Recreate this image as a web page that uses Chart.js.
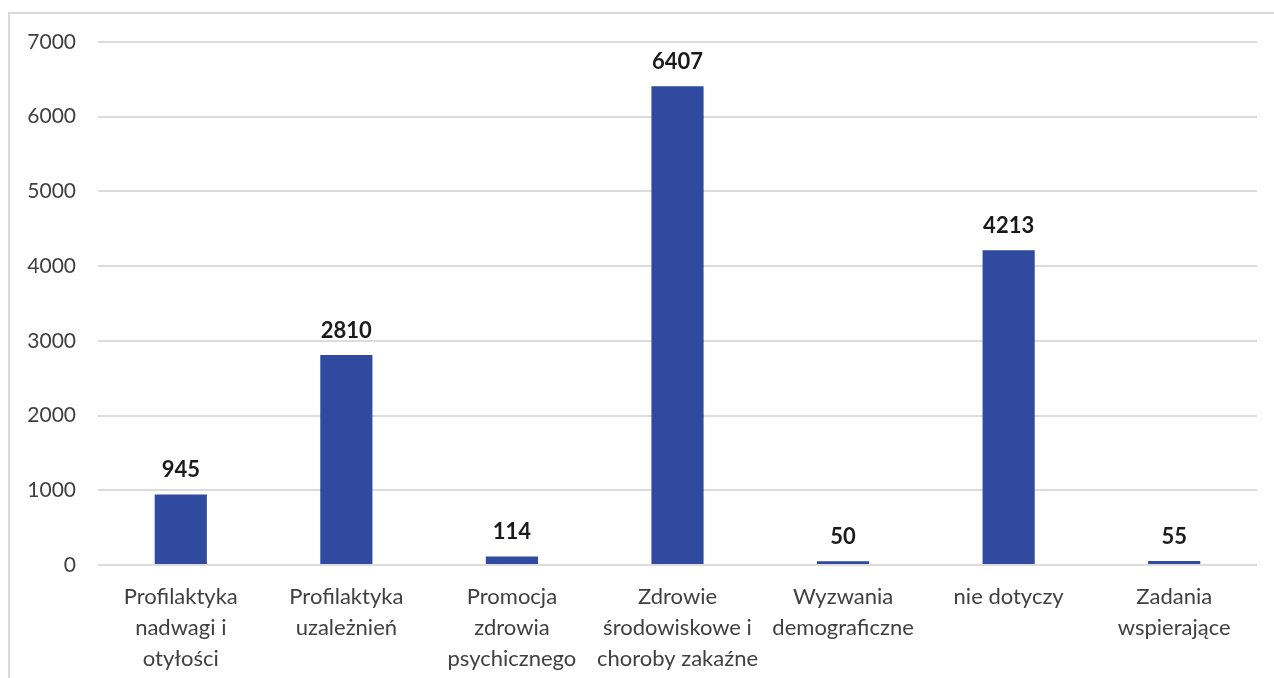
<!DOCTYPE html>
<html>
<head>
<meta charset="utf-8">
<script src="https://cdn.jsdelivr.net/npm/chart.js@4.4.0/dist/chart.umd.min.js"></script>
<style>
  html, body { margin: 0; padding: 0; background: #fff; overflow: hidden; }
  #frame { position: absolute; left: 8px; top: 12px; width: 1280px; height: 680px; border: 2px solid #d9d9d9; box-sizing: border-box; }
  #wrap { position: absolute; left: 0; top: 0; width: 1274px; height: 678px; }
</style>
</head>
<body>
<div id="frame"></div>
<div id="wrap"><canvas id="myChart"></canvas></div>
<script>
  var categories = [
    ["Profilaktyka", "nadwagi i", "otyłości"],
    ["Profilaktyka", "uzależnień"],
    ["Promocja", "zdrowia", "psychicznego"],
    ["Zdrowie", "środowiskowe i", "choroby zakaźne"],
    ["Wyzwania", "demograficzne"],
    ["nie dotyczy"],
    ["Zadania", "wspierające"]
  ];
  var values = [945, 2810, 114, 6407, 50, 4213, 55];
  var yMax = 7000;
  var yStep = 1000;

  // writes the value above each bar
  const barValues = {
    id: 'barValues',
    afterDatasetsDraw(chart) {
      const ctx = chart.ctx;
      const meta = chart.getDatasetMeta(0);
      ctx.save();
      ctx.font = 'bold 22px Lato';
      ctx.fillStyle = '#1a1a1a';
      ctx.textAlign = 'center';
      ctx.textBaseline = 'alphabetic';
      meta.data.forEach((bar, i) => {
        ctx.fillText(values[i], bar.x, bar.y - 17);
      });
      ctx.restore();
    }
  };

  new Chart("myChart", {
    type: "bar",
    data: {
      labels: categories,
      datasets: [{
        data: values,
        backgroundColor: "#2f4a9e",
        categoryPercentage: 1,
        barPercentage: 0.315
      }]
    },
    plugins: [barValues],
    options: {
      responsive: true,
      maintainAspectRatio: false,
      animation: false,
      layout: { padding: { left: 0, right: 17, top: 42, bottom: 0 } },
      plugins: {
        legend: { display: false },
        tooltip: { enabled: false }
      },
      scales: {
        x: {
          afterFit(scale) { scale.height = 113; },
          grid: { display: false },
          border: { display: false },
          ticks: {
            color: '#404040',
            font: { family: 'Lato', size: 22, lineHeight: 1.41 },
            maxRotation: 0,
            autoSkip: false,
            padding: 8
          }
        },
        y: {
          min: 0,
          max: yMax,
          afterFit(scale) { scale.width = 98; },
          grid: { color: '#dcdcdc', lineWidth: 2, drawTicks: false },
          border: { display: false },
          ticks: {
            stepSize: yStep,
            color: '#404040',
            font: { family: 'Lato', size: 21 },
            padding: 22,
            callback: (v) => String(v)
          }
        }
      }
    }
  });
</script>
</body>
</html>
